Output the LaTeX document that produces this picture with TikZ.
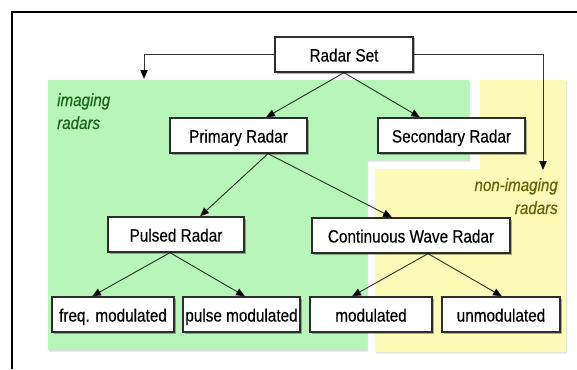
\documentclass[tikz,border=0pt]{standalone}
\usepackage{fontspec}
\setmainfont{Liberation Sans}[FakeStretch=0.86,FakeBold=0.35]
\usetikzlibrary{arrows.meta,shadows}
\definecolor{imgreen}{RGB}{183,246,184}
\definecolor{nonyellow}{RGB}{251,250,182}
\definecolor{imtext}{RGB}{25,100,25}
\definecolor{nontext}{RGB}{100,100,10}
\definecolor{boxline}{RGB}{45,45,45}
\tikzset{
  rbox/.style={draw=boxline, line width=1.3pt, fill=white, inner sep=0pt,
    minimum height=35pt, text height=14pt, text depth=0pt,
    font=\fontsize{17.8}{21}\selectfont,
    drop shadow={shadow xshift=1.5pt, shadow yshift=-1.5pt, opacity=0.3, fill=black}},
  conn/.style={draw=black, line width=0.9pt, draw opacity=0.8,
    -{Triangle[length=9pt,width=7.5pt]}},
  grouplabel/.style={font=\itshape\fontsize{17.6}{23}\selectfont, inner sep=0pt}
}
\begin{document}
\begin{tikzpicture}[x=1pt,y=-1pt]
\useasboundingbox (0,0) rectangle (577,369);
\fill[white] (0,0) rectangle (577,369);
% regions
\fill[imgreen, drop shadow={shadow xshift=1pt, shadow yshift=-1.5pt, opacity=0.12, fill=black}]
  (48,80) -- (469,80) -- (469,160) -- (367,160) -- (367,350) -- (48,350) -- cycle;
\fill[nonyellow, drop shadow={shadow xshift=1pt, shadow yshift=-1.5pt, opacity=0.12, fill=black}]
  (480,80) -- (566,80) -- (566,352) -- (375,352) -- (375,169) -- (480,169) -- cycle;
% frame
\draw[line width=2pt] (12,369) -- (12,12) -- (577,12);
% group labels
\node[grouplabel, text=imtext, anchor=base west] (imlab) at (57,106) {imaging};
\node[grouplabel, text=imtext, anchor=base west] (imlab2) at (57,129) {radars};
\node[grouplabel, text=nontext, anchor=base east] (nonlab) at (558,191) {non-imaging};
\node[grouplabel, text=nontext, anchor=base east] (nonlab2) at (558,214) {radars};
% boxes
\node[rbox, minimum width=138pt] (rs) at (344,54.5) {Radar Set};
\node[rbox, minimum width=137pt] (pr) at (238.5,135.5) {Primary Radar};
\node[rbox, minimum width=147pt] (sr) at (451.5,135.5) {Secondary Radar};
\node[rbox, minimum width=136pt] (pu) at (176,234.5) {Pulsed Radar};
\node[rbox, minimum width=198pt] (cw) at (411,235.5) {Continuous Wave Radar};
\node[rbox, minimum width=122pt] (fm) at (113,314.5) {freq. modulated};
\node[rbox, minimum width=117pt] (pm) at (241.5,314.5) {pulse modulated};
\node[rbox, minimum width=122pt] (mo) at (371,314.5) {modulated};
\node[rbox, minimum width=118pt] (um) at (501,314.5) {unmodulated};
% free ends of elbow connectors
\coordinate (lt) at (144,79);
\coordinate (rt) at (543,170);
% connectors
\draw[conn] (rs.west) -| (lt);
\draw[conn] (rs.east) -| (rt);
\draw[conn] (rs.south) -- ([xshift=27.5pt]pr.north);
\draw[conn] (rs.south) -- ([xshift=-31.5pt]sr.north);
\draw[conn] ([xshift=29.5pt]pr.south) -- ([xshift=24pt]pu.north);
\draw[conn] ([xshift=29.5pt]pr.south) -- ([xshift=-19pt]cw.north);
\draw[conn] ([xshift=-6pt]pu.south) -- ([xshift=-21pt]fm.north);
\draw[conn] ([xshift=-6pt]pu.south) -- ([xshift=3.5pt]pm.north);
\draw[conn] ([xshift=17pt]cw.south) -- ([xshift=-19pt]mo.north);
\draw[conn] ([xshift=17pt]cw.south) -- ([xshift=1pt]um.north);
\end{tikzpicture}
\end{document}
